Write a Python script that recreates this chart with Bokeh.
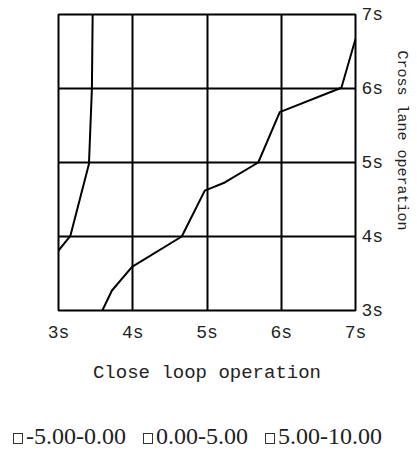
import math
from bokeh.plotting import figure
from bokeh.layouts import column
from bokeh.models import Range1d, Title, FixedTicker, CustomJSTickFormatter, Div
from bokeh.embed import file_html
from bokeh.resources import INLINE

# Data (contour boundary lines)
left_x = [3.0, 3.16, 3.41, 3.45, 3.46]
left_y = [3.81, 4.01, 4.98, 6.0, 7.0]
right_x = [3.59, 3.72, 3.99, 4.66, 4.97, 5.24, 5.69, 5.98, 6.81, 7.0]
right_y = [3.0, 3.27, 3.59, 4.0, 4.62, 4.73, 5.0, 5.68, 6.01, 6.67]
ticks = [3, 4, 5, 6, 7]
tick_labels = ["3s", "4s", "5s", "6s", "7s"]
legend_labels = ["-5.00-0.00", "0.00-5.00", "5.00-10.00"]
x_title = "Close loop operation"
y_title = "Cross lane operation"

p = figure(width=417, height=410, output_backend="svg", toolbar_location=None,
           x_range=Range1d(3, 7), y_range=Range1d(3, 7), y_axis_location="right",
           min_border_left=58, min_border_right=61, min_border_top=14, min_border_bottom=100)
p.background_fill_color = "white"
p.border_fill_color = "white"
p.outline_line_color = "black"
p.outline_line_width = 2

fmt = CustomJSTickFormatter(args=dict(labs=tick_labels, vals=ticks),
                            code="return labs[vals.indexOf(tick)];")
for ax in (p.xaxis[0], p.yaxis[0]):
    ax.ticker = FixedTicker(ticks=ticks)
    ax.formatter = fmt
    ax.axis_line_color = None
    ax.major_tick_line_color = None
    ax.minor_tick_line_color = None
    ax.major_tick_out = 0
    ax.major_tick_in = 0
    ax.major_label_text_font = "Liberation Mono"
    ax.major_label_text_font_size = "18px"
    ax.major_label_text_color = "#222"

p.xaxis.major_label_standoff = 12
p.yaxis.major_label_standoff = 6
p.xaxis.axis_label = x_title
p.xaxis.axis_label_text_font = "Liberation Mono"
p.xaxis.axis_label_text_font_size = "19px"
p.xaxis.axis_label_text_font_style = "normal"
p.xaxis.axis_label_text_color = "#222"
p.xaxis.axis_label_standoff = 16

for g in (p.xgrid[0], p.ygrid[0]):
    g.ticker = FixedTicker(ticks=ticks)
    g.grid_line_color = "black"
    g.grid_line_width = 2
    g.grid_line_alpha = 1

p.line(left_x, left_y, line_color="black", line_width=2)
p.line(right_x, right_y, line_color="black", line_width=2)

p.add_layout(Title(text=y_title, align="left", offset=36, standoff=12,
                   text_font="Liberation Mono", text_font_size="15px",
                   text_font_style="normal", text_color="#222"), "right")

# Legend strip (HTML, real text)
sq = ("<span style=\"display:inline-block;width:10px;height:11px;"
      "border:1.5px solid #333;background:white;vertical-align:middle;"
      "margin-left:{ml}px;margin-right:3px\"></span>")
parts = []
for i, lab in enumerate(legend_labels):
    parts.append(sq.format(ml=(0 if i == 0 else 17)) + "<span>" + lab + "</span>")
html = ("<div style=\"font-family:'Liberation Serif';font-size:24px;line-height:28px;"
        "color:#222;white-space:nowrap;padding-top:12px;padding-left:13px\">"
        + "".join(parts) + "</div>")
leg = Div(text=html, width=417, height=44, margin=0)

open("out.html", "w").write(file_html(column(p, leg), INLINE))
